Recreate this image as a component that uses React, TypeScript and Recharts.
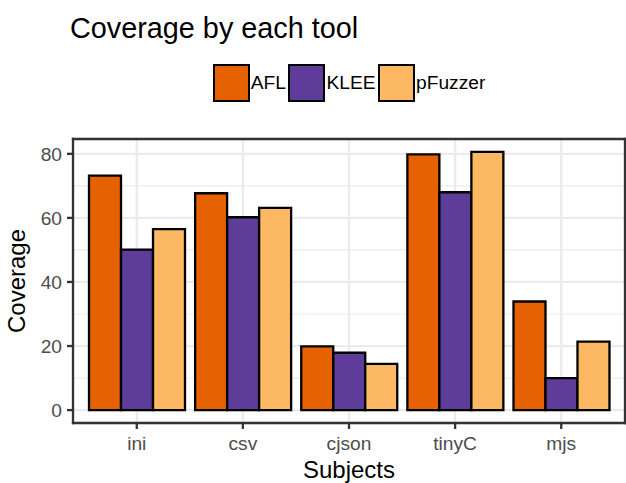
import { Bar, BarChart, CartesianGrid, XAxis, YAxis } from "recharts";

const subjects = ["ini", "csv", "cjson", "tinyC", "mjs"];
const aflCoverage = [73.2, 67.7, 19.9, 79.8, 33.9];
const kleeCoverage = [50.1, 60.2, 17.9, 68.0, 10.0];
const pfuzzerCoverage = [56.5, 63.1, 14.4, 80.6, 21.4];
const yTicks = [0, 20, 40, 60, 80];
const yMinorTicks = [10, 30, 50, 70];

const tools = [
  { key: "afl", name: "AFL", color: "#e66101" },
  { key: "klee", name: "KLEE", color: "#5e3c99" },
  { key: "pfuzzer", name: "pFuzzer", color: "#fdb863" },
];

const FONT = '"Liberation Sans", Arial, Helvetica, sans-serif';
const GRID = "#ebebeb"; // grey92
const BORDER = "#333333"; // grey20
const TICK_TEXT = "#4d4d4d"; // grey30

const rows = subjects.map((s, i) => ({
  subject: s,
  afl: aflCoverage[i],
  klee: kleeCoverage[i],
  pfuzzer: pfuzzerCoverage[i],
}));

// ggplot-style 5% expansion on the continuous axis
const maxVal = Math.max(...aflCoverage, ...kleeCoverage, ...pfuzzerCoverage);
const yDomain: [number, number] = [-maxVal * 0.05, maxVal * 1.05];

const axisLine = { stroke: BORDER, strokeWidth: 2.3, strokeLinecap: "square" as const };
const tickLine = { stroke: BORDER, strokeWidth: 2.3 };

// map a value through whatever scale shape recharts hands the grid generator
const scaleY = (yAxis: any, offset: any, v: number) => {
  const sc = yAxis && yAxis.scale;
  if (typeof sc === "function") return sc(v);
  if (sc && typeof sc.map === "function") return sc.map(v);
  return offset.top + (offset.height * (yDomain[1] - v)) / (yDomain[1] - yDomain[0]);
};

const YTitle = (props: any) => {
  const vb = props.viewBox || { x: 0, y: 139, width: 73, height: 284 };
  const cx = vb.x + 25;
  const cy = vb.y + vb.height / 2;
  return (
    <text
      x={cx}
      y={cy}
      transform={`rotate(-90 ${cx} ${cy})`}
      textAnchor="middle"
      fontSize={24}
      fill="#000"
      fontFamily={FONT}
    >
      Coverage
    </text>
  );
};

export default function App() {
  return (
    <div
      style={{
        position: "absolute",
        left: 0,
        top: 0,
        width: 626,
        height: 483,
        background: "#fff",
        fontFamily: FONT,
      }}
    >
      {/* Title */}
      <div
        style={{
          position: "absolute",
          left: 70,
          top: 13.6,
          fontSize: 28.8,
          lineHeight: 1,
          color: "#000",
          whiteSpace: "nowrap",
        }}
      >
        Coverage by each tool
      </div>

      {/* Legend */}
      <div
        style={{
          position: "absolute",
          left: 73,
          width: 552,
          top: 64,
          display: "flex",
          justifyContent: "center",
          gap: 2.5,
        }}
      >
        {tools.map((t) => (
          <div key={t.key} style={{ display: "flex", alignItems: "center" }}>
            <div
              style={{
                boxSizing: "border-box",
                width: 37,
                height: 38,
                background: t.color,
                border: "2.3px solid #000",
              }}
            />
            <span style={{ fontSize: 19.2, marginLeft: 1, color: "#000" }}>{t.name}</span>
          </div>
        ))}
      </div>

      <div style={{ position: "absolute", left: 0, top: 0 }}>
        <BarChart
          width={626}
          height={483}
          data={rows}
          margin={{ top: 138, right: 0, bottom: 0, left: 0 }}
          barCategoryGap="5%"
          barGap={0}
          style={{ fontFamily: FONT }}
        >
          {/* minor grid */}
          <CartesianGrid
            vertical={false}
            stroke={GRID}
            strokeWidth={1.2}
            horizontalCoordinatesGenerator={({ yAxis, offset }: any) =>
              yMinorTicks.map((v) => scaleY(yAxis, offset, v))
            }
          />
          {/* major grid */}
          <CartesianGrid stroke={GRID} strokeWidth={2.3} />
          <XAxis
            dataKey="subject"
            height={60}
            padding={{ left: 10.7, right: 10.7 }}
            tick={{ fill: TICK_TEXT, fontSize: 19.2 }}
            tickSize={6}
            tickMargin={7}
            tickLine={tickLine}
            axisLine={axisLine}
            label={{ value: "Subjects", position: "insideBottom", offset: 5, fill: "#000", fontSize: 24 }}
          />
          {/* top and right edges of the panel border */}
          <XAxis
            xAxisId="top"
            orientation="top"
            dataKey="subject"
            height={1}
            tick={false}
            tickLine={false}
            axisLine={axisLine}
          />
          <YAxis
            width={73}
            domain={yDomain}
            ticks={yTicks}
            allowDataOverflow
            tick={{ fill: TICK_TEXT, fontSize: 19.2 }}
            tickSize={6}
            tickMargin={5}
            tickLine={tickLine}
            axisLine={axisLine}
            label={<YTitle />}
          />
          <YAxis
            yAxisId="right"
            orientation="right"
            width={1}
            domain={yDomain}
            tick={false}
            tickLine={false}
            axisLine={axisLine}
          />
          {tools.map((t) => (
            <Bar
              key={t.key}
              dataKey={t.key}
              name={t.name}
              fill={t.color}
              stroke="#000"
              strokeWidth={2.3}
              isAnimationActive={false}
            />
          ))}
        </BarChart>
      </div>
    </div>
  );
}
